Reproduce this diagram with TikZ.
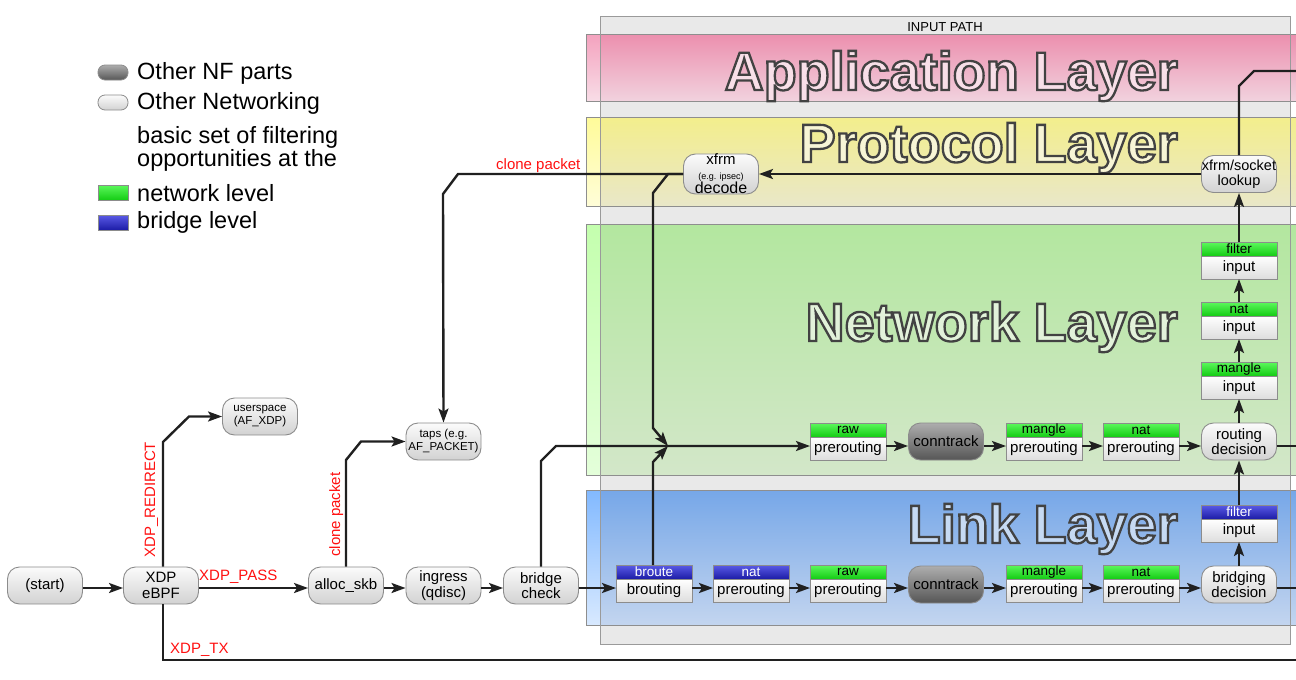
\documentclass[tikz,border=0pt]{standalone}
\usepackage{fontspec}
\setmainfont{Liberation Sans}
\usetikzlibrary{arrows.meta}

\definecolor{ink}{HTML}{202020}
\definecolor{edgegray}{HTML}{8C8C8C}
\definecolor{pathgray}{HTML}{E9E9E9}
\definecolor{pathedge}{HTML}{9A9A9A}
\definecolor{bandedge}{HTML}{8E8E8E}
\definecolor{pilltop}{HTML}{FBFBFB}
\definecolor{pillbot}{HTML}{D2D2D2}
\definecolor{nftop}{HTML}{ADADAD}
\definecolor{nfbot}{HTML}{565656}
\definecolor{greentop}{HTML}{5CF85C}
\definecolor{greenbot}{HTML}{14CC14}
\definecolor{bluetop}{HTML}{5A5AE6}
\definecolor{bluebot}{HTML}{1C1CA6}
\definecolor{labelred}{HTML}{FF1010}
% layer bands (main part / strip outside the input path box)
\definecolor{appTop}{HTML}{EC8FAE}\definecolor{appBot}{HTML}{F1D2DE}
\definecolor{appTopS}{HTML}{F4A2BE}\definecolor{appBotS}{HTML}{F8DDE7}
\definecolor{proTop}{HTML}{F3EE8C}\definecolor{proBot}{HTML}{E9E7C8}
\definecolor{proTopS}{HTML}{FFFB99}\definecolor{proBotS}{HTML}{FFFDD8}
\definecolor{netTop}{HTML}{B3E79F}\definecolor{netBot}{HTML}{D3E7C9}
\definecolor{netTopS}{HTML}{C4FFAE}\definecolor{netBotS}{HTML}{E4FFDA}
\definecolor{lnkTop}{HTML}{76A7E8}\definecolor{lnkBot}{HTML}{C3D5EF}
\definecolor{lnkTopS}{HTML}{82B9FF}\definecolor{lnkBotS}{HTML}{D8E9FF}
% layer title fills
\definecolor{appTitle}{HTML}{F8DFE8}
\definecolor{proTitle}{HTML}{F7F5D6}
\definecolor{netTitle}{HTML}{E2F2DA}
\definecolor{lnkTitle}{HTML}{C6DAF3}

\newcommand\fsz[2]{\fontsize{#1}{#2}\selectfont}
% filled text with a dark stroked outline
\newcommand\outlined[1]{\special{pdf:literal direct 2 Tr 2.3 w 0.26 0.26 0.26 RG}#1\special{pdf:literal direct 0 Tr}}

% a hook: coloured table header on top of a white chain box
\newcommand\hookbox[6]{%
  \node[#4] (#1-h) at (#2,#3) {#5};
  \node[hookbody, anchor=north] (#1) at (#1-h.south) {#6};}

\begin{document}
\begin{tikzpicture}[x=1pt,y=-1pt,
  pill/.style={draw=edgegray, line width=0.9pt, rounded corners=12pt,
    top color=pilltop, bottom color=pillbot, minimum width=75pt,
    minimum height=37pt, inner sep=0pt, align=center,
    font=\fsz{15pt}{15.5pt}, text=black},
  nfpill/.style={pill, top color=nftop, bottom color=nfbot},
  hdr/.style={draw=edgegray, line width=0.9pt, minimum width=76pt,
    minimum height=14pt, inner sep=0pt, outer sep=0pt, font=\fsz{13.5pt}{13pt}},
  nethdr/.style={hdr, top color=greentop, bottom color=greenbot, text=black},
  brhdr/.style={hdr, top color=bluetop, bottom color=bluebot, text=white},
  hookbody/.style={draw=edgegray, line width=0.9pt, minimum width=76pt,
    minimum height=23pt, inner sep=0pt, outer sep=0pt, top color=white,
    bottom color=pillbot!75!white, font=\fsz{15pt}{15pt}},
  flow/.style={draw=ink, line width=2.4pt,
    -{Stealth[length=14pt,width=10pt,inset=3pt]}},
  plain/.style={draw=ink, line width=2.4pt},
  redlbl/.style={text=labelred, font=\fsz{15pt}{15pt}, inner sep=0pt},
  legend/.style={font=\fsz{23.5pt}{17.5pt}, anchor=west, inner sep=0pt, align=left},
  layertitle/.style={font=\fsz{54pt}{54pt}\bfseries, anchor=base east, inner sep=0pt},
]
\useasboundingbox (0,0) rectangle (1296,680);

% ---------- input path box and layer bands ----------
\fill[pathgray] (600,16) rectangle (1290,644);
\node[font=\fsz{13pt}{13pt}, anchor=base, inner sep=0pt] (inpath) at (945,31) {INPUT PATH};

\shade[top color=appTop, bottom color=appBot] (586,34) rectangle (1300,101);
\shade[top color=appTopS, bottom color=appBotS] (586,34) rectangle (600,101);
\draw[bandedge] (1300,34) -- (586,34) -- (586,101) -- (1300,101);

\shade[top color=proTop, bottom color=proBot] (586,117) rectangle (1300,206);
\shade[top color=proTopS, bottom color=proBotS] (586,117) rectangle (600,206);
\draw[bandedge] (1300,117) -- (586,117) -- (586,206) -- (1300,206);

\shade[top color=netTop, bottom color=netBot] (586,224) rectangle (1300,475);
\shade[top color=netTopS, bottom color=netBotS] (586,224) rectangle (600,475);
\draw[bandedge] (1300,224) -- (586,224) -- (586,475) -- (1300,475);

\shade[top color=lnkTop, bottom color=lnkBot] (586,490) rectangle (1300,625);
\shade[top color=lnkTopS, bottom color=lnkBotS] (586,490) rectangle (600,625);
\draw[bandedge] (1300,490) -- (586,490) -- (586,625) -- (1300,625);

\draw[pathedge, line width=0.9pt] (600,16) rectangle (1290,644);

\node[layertitle, text=appTitle] (tapp) at (1178,90) {\outlined{Application Layer}};
\node[layertitle, text=proTitle] (tpro) at (1178,162) {\outlined{Protocol Layer}};
\node[layertitle, text=netTitle] (tnet) at (1178,341) {\outlined{Network Layer}};
\node[layertitle, text=lnkTitle] (tlnk) at (1178,543) {\outlined{Link Layer}};

% ---------- legend ----------
\node[draw=edgegray, line width=0.8pt, rounded corners=7pt, top color=nftop,
  bottom color=nfbot, minimum width=30pt, minimum height=15pt, inner sep=0pt] (lgnf) at (113,72.5) {};
\node[legend] (lgnft) at (137,73) {Other NF parts};
\node[draw=edgegray, line width=0.8pt, rounded corners=7pt, top color=pilltop,
  bottom color=pillbot, minimum width=30pt, minimum height=15pt, inner sep=0pt] (lgnet) at (113,102.5) {};
\node[legend] (lgnett) at (137,103) {Other Networking};
\node[legend] (lgbasic) at (137,149) {basic set of filtering\\opportunities at the};
\node[draw=edgegray, line width=0.8pt, top color=greentop, bottom color=greenbot,
  minimum width=30pt, minimum height=15pt, inner sep=0pt] (lggreen) at (113,192.5) {};
\node[legend] (lggreent) at (137,193) {network level};
\node[draw=edgegray, line width=0.8pt, top color=bluetop, bottom color=bluebot,
  minimum width=30pt, minimum height=15pt, inner sep=0pt] (lgblue) at (113,222.5) {};
\node[legend] (lgbluet) at (137,222) {bridge level};

% ---------- nodes ----------
\node[pill] (start) at (45,585.5) {(start)};
\node[pill] (xdp) at (161,585.5) {XDP\\eBPF};
\node[pill] (alloc) at (346,585.5) {alloc\_skb};
\node[pill] (ingress) at (443.5,585.5) {ingress\\(qdisc)};
\node[pill] (bcheck) at (541,585.5) {bridge\\check};
\node[pill, font=\fsz{11.5pt}{13pt}] (usr) at (260,416.5) {userspace\\(AF\_XDP)};
\node[pill, font=\fsz{11.5pt}{13pt}] (taps) at (443.5,441.5) {taps (e.g.\\AF\_PACKET)};
\node[pill] (decode) at (721,174) {\fsz{15pt}{12pt}xfrm\\[-1pt]{\fsz{9pt}{9pt}(e.g. ipsec)}\\[-1pt]{\fsz{16pt}{14pt}decode}};
\node[pill, font=\fsz{14.5pt}{15pt}] (lookup) at (1239,174) {xfrm/socket\\lookup};
\node[pill] (route) at (1239,441.5) {routing\\decision};
\node[pill] (bridging) at (1239,584.5) {bridging\\decision};
\node[nfpill] (ctN) at (946,441.5) {conntrack};
\node[nfpill] (ctL) at (946,584.5) {conntrack};

% link layer hooks
\hookbox{broute}{654}{572}{brhdr}{broute}{brouting}
\hookbox{natL}{751}{572}{brhdr}{nat}{prerouting}
\hookbox{rawL}{848}{572}{nethdr}{raw}{prerouting}
\hookbox{mangL}{1044}{572}{nethdr}{mangle}{prerouting}
\hookbox{natL2}{1141}{572}{nethdr}{nat}{prerouting}
\hookbox{bfilt}{1239}{512}{brhdr}{filter}{input}
% network layer hooks
\hookbox{rawN}{848}{430}{nethdr}{raw}{prerouting}
\hookbox{mangN}{1044}{430}{nethdr}{mangle}{prerouting}
\hookbox{natN}{1141}{430}{nethdr}{nat}{prerouting}
\hookbox{mangIn}{1239}{369}{nethdr}{mangle}{input}
\hookbox{natIn}{1239}{309}{nethdr}{nat}{input}
\hookbox{filtIn}{1239}{249}{nethdr}{filter}{input}

% ---------- connectors ----------
\coordinate (lrow) at (0,588);
\coordinate (nrow) at (0,446);
\coordinate (merge) at (668,446);
\coordinate (exitA) at (1296,71);
\coordinate (exitN) at (1296,446);
\coordinate (exitL) at (1296,588);
\coordinate (exitTX) at (1296,660);

% ingress path along the link row
\draw[flow] (start.east |- lrow) -- (xdp.west |- lrow);
\draw[flow] (xdp.east |- lrow) -- (alloc.west |- lrow);
\draw[flow] (alloc.east |- lrow) -- (ingress.west |- lrow);
\draw[flow] (ingress.east |- lrow) -- (bcheck.west |- lrow);
\draw[flow] (bcheck.east |- lrow) -- (broute.west |- lrow);
\draw[flow] (broute.east |- lrow) -- (natL.west |- lrow);
\draw[flow] (natL.east |- lrow) -- (rawL.west |- lrow);
\draw[flow] (rawL.east |- lrow) -- (ctL.west |- lrow);
\draw[flow] (ctL.east |- lrow) -- (mangL.west |- lrow);
\draw[flow] (mangL.east |- lrow) -- (natL2.west |- lrow);
\draw[flow] (natL2.east |- lrow) -- (bridging.west |- lrow);
\draw[plain] (bridging.east |- lrow) -- (exitL);

% XDP verdicts
\draw[flow] (xdp.north -| 163,0) -- (163,442) -- (189,416.5) -- (usr.west);
\draw[plain] (xdp.south -| 163,0) -- (163,660) -- (exitTX);
\node[redlbl, anchor=base west] (lpass) at (199,580) {XDP\_PASS};
\node[redlbl, anchor=base west] (ltx) at (170,653) {XDP\_TX};
\node[redlbl, anchor=base west, rotate=90] (lredir) at (155,558) {XDP\_REDIRECT};

% packet taps
\draw[flow] (alloc.north) -- (346,460) -- (361,441.5) -- (taps.west);
\node[redlbl, anchor=base west, rotate=90] (lclone1) at (340,557) {clone packet};

% network row
\draw[flow] (bcheck.north) -- (541,461) -- (556,446) -- (rawN.west |- nrow);
\draw[flow] (rawN.east |- nrow) -- (ctN.west |- nrow);
\draw[flow] (ctN.east |- nrow) -- (mangN.west |- nrow);
\draw[flow] (mangN.east |- nrow) -- (natN.west |- nrow);
\draw[flow] (natN.east |- nrow) -- (route.west |- nrow);
\draw[plain] (route.east |- nrow) -- (exitN);

% from brouting and from xfrm decode into the network row
\draw[flow] (broute-h.north -| 653,0) -- (653,462) -- (merge);
\draw[flow] (decode.west) -- (668,174) -- (653,193) -- (653,428) -- (merge);
\draw[flow] (decode.west) -- (458,174) -- (443,194) -- (taps.north);
\node[redlbl, anchor=base west] (lclone2) at (496,169) {clone packet};

% input chain column
\draw[flow] (bridging.north) -- (bfilt.south);
\draw[flow] (bfilt-h.north) -- (route.south);
\draw[flow] (route.north) -- (mangIn.south);
\draw[flow] (mangIn-h.north) -- (natIn.south);
\draw[flow] (natIn-h.north) -- (filtIn.south);
\draw[flow] (filtIn-h.north) -- (lookup.south);
\draw[flow] (lookup.west) -- (decode.east);
\draw[plain] (lookup.north) -- (1239,86) -- (1254,71) -- (exitA);

\end{tikzpicture}
\end{document}
